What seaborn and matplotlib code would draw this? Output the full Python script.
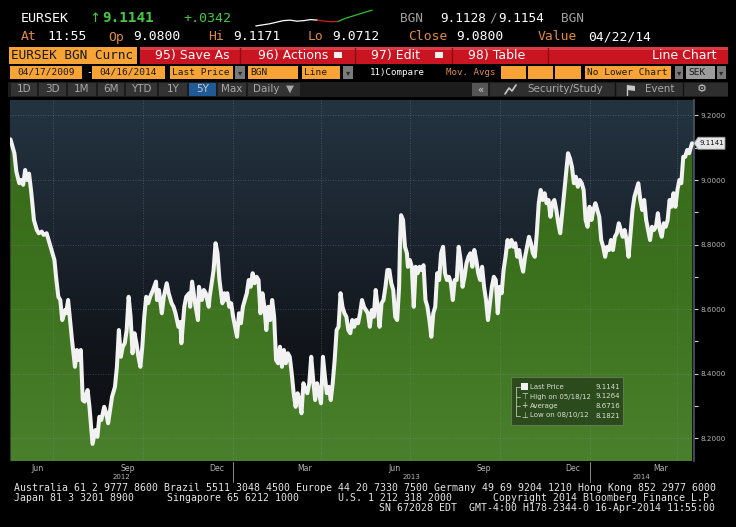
import numpy as np
import pandas as pd
import matplotlib
matplotlib.use("Agg")
import matplotlib.pyplot as plt
import matplotlib.dates as mdates
from matplotlib.colors import LinearSegmentedColormap
from matplotlib.patches import Rectangle, Polygon
import seaborn as sns

# ---- data ----
start_date = "2012-05-18"
# days since start_date
day = [0, 4, 6, 9, 11, 13, 15, 17, 19, 21, 22, 24, 27, 29, 32, 34, 37, 39, 42, 44,
       45, 47, 49, 51, 53, 56, 57, 59, 61, 63, 66, 68, 70, 72, 74, 76, 78, 79, 81, 82,
       84, 87, 89, 91, 93, 96, 98, 100, 102, 104, 107, 109, 111, 113, 115, 117, 119, 121, 123, 125,
       127, 129, 131, 133, 135, 137, 139, 141, 143, 146, 149, 150, 152, 155, 157, 160, 162, 165, 167, 169,
       172, 174, 175, 178, 180, 183, 184, 186, 189, 192, 193, 196, 198, 200, 203, 204, 206, 208, 210, 212,
       214, 217, 219, 221, 222, 224, 226, 228, 230, 232, 234, 236, 238, 240, 242, 244, 246, 248, 250, 252,
       254, 256, 258, 260, 262, 264, 266, 268, 270, 272, 274, 276, 278, 280, 282, 284, 286, 288, 290, 292,
       294, 296, 298, 300, 302, 304, 306, 308, 310, 312, 314, 316, 318, 320, 322, 324, 326, 328, 330, 332,
       334, 336, 338, 340, 342, 344, 346, 348, 350, 352, 354, 356, 358, 360, 362, 364, 366, 368, 370, 372,
       374, 376, 378, 380, 382, 384, 386, 388, 390, 392, 394, 396, 398, 399, 400, 402, 404, 406, 407, 409,
       411, 413, 415, 417, 419, 421, 423, 425, 427, 429, 431, 433, 435, 437, 439, 441, 443, 445, 447, 449,
       451, 453, 455, 457, 459, 461, 463, 465, 467, 469, 471, 473, 475, 477, 479, 481, 483, 485, 487, 489,
       491, 493, 495, 497, 499, 501, 503, 505, 507, 509, 511, 513, 515, 517, 519, 521, 523, 525, 527, 529,
       531, 533, 535, 537, 539, 541, 543, 545, 547, 549, 551, 553, 555, 557, 559, 561, 563, 565, 567, 569,
       571, 573, 575, 577, 579, 581, 583, 585, 587, 589, 591, 593, 595, 597, 599, 601, 603, 605, 607, 609,
       611, 613, 615, 617, 619, 621, 623, 625, 627, 629, 631, 633, 635, 637, 639, 641, 643, 645, 647, 649,
       651, 653, 655, 657, 659, 661, 663, 665, 667, 669, 671, 673, 675, 677, 679, 681, 683, 685, 687, 689,
       691, 693, 695, 698]
price = [9.126, 9.083, 9.026, 8.990, 9.000, 8.985, 9.031, 9.000, 9.020, 8.969, 8.940, 8.876, 8.845, 8.835, 8.840, 8.830, 8.835, 8.814, 8.783, 8.762,
         8.752, 8.690, 8.638, 8.628, 8.566, 8.597, 8.587, 8.628, 8.566, 8.504, 8.421, 8.473, 8.442, 8.473, 8.318, 8.313, 8.340, 8.349, 8.293, 8.256,
         8.182, 8.225, 8.204, 8.266, 8.256, 8.297, 8.277, 8.246, 8.287, 8.328, 8.359, 8.421, 8.535, 8.452, 8.483, 8.494, 8.535, 8.638, 8.576, 8.463,
         8.525, 8.494, 8.452, 8.421, 8.483, 8.576, 8.638, 8.618, 8.638, 8.659, 8.685, 8.628, 8.659, 8.587, 8.638, 8.680, 8.649, 8.618, 8.607, 8.587,
         8.545, 8.560, 8.494, 8.607, 8.638, 8.649, 8.607, 8.685, 8.618, 8.566, 8.669, 8.628, 8.659, 8.649, 8.607, 8.638, 8.680, 8.721, 8.804, 8.773,
         8.690, 8.618, 8.649, 8.628, 8.649, 8.607, 8.618, 8.576, 8.545, 8.514, 8.587, 8.556, 8.607, 8.628, 8.649, 8.690, 8.669, 8.711, 8.680, 8.700,
         8.690, 8.587, 8.649, 8.607, 8.535, 8.607, 8.566, 8.628, 8.576, 8.442, 8.432, 8.483, 8.421, 8.473, 8.432, 8.463, 8.452, 8.401, 8.339, 8.297,
         8.339, 8.318, 8.277, 8.370, 8.349, 8.339, 8.370, 8.452, 8.380, 8.318, 8.370, 8.339, 8.308, 8.452, 8.390, 8.339, 8.359, 8.318, 8.370, 8.442,
         8.535, 8.545, 8.649, 8.607, 8.587, 8.576, 8.535, 8.525, 8.566, 8.545, 8.566, 8.556, 8.587, 8.628, 8.607, 8.597, 8.587, 8.545, 8.597, 8.576,
         8.659, 8.607, 8.545, 8.618, 8.628, 8.669, 8.721, 8.721, 8.680, 8.659, 8.576, 8.566, 8.669, 8.814, 8.891, 8.876, 8.793, 8.773, 8.731, 8.752,
         8.731, 8.607, 8.731, 8.711, 8.731, 8.721, 8.736, 8.628, 8.607, 8.566, 8.514, 8.587, 8.607, 8.711, 8.690, 8.773, 8.793, 8.711, 8.690, 8.700,
         8.680, 8.628, 8.690, 8.690, 8.793, 8.752, 8.669, 8.700, 8.742, 8.762, 8.773, 8.731, 8.783, 8.752, 8.711, 8.690, 8.731, 8.669, 8.628, 8.566,
         8.618, 8.669, 8.700, 8.690, 8.587, 8.669, 8.649, 8.721, 8.762, 8.814, 8.793, 8.814, 8.793, 8.804, 8.762, 8.783, 8.742, 8.716, 8.762, 8.793,
         8.824, 8.804, 8.773, 8.762, 8.835, 8.928, 8.969, 8.938, 8.959, 8.928, 8.938, 8.886, 8.928, 8.938, 8.907, 8.866, 8.835, 8.897, 8.959, 9.021,
         9.083, 9.067, 9.041, 8.990, 9.010, 8.979, 9.000, 8.990, 8.969, 8.876, 8.855, 8.917, 8.876, 8.907, 8.928, 8.907, 8.886, 8.814, 8.793, 8.762,
         8.793, 8.783, 8.814, 8.783, 8.824, 8.835, 8.866, 8.845, 8.824, 8.845, 8.814, 8.762, 8.835, 8.907, 8.948, 8.969, 8.990, 8.938, 8.907, 8.938,
         8.876, 8.845, 8.814, 8.855, 8.845, 8.855, 8.897, 8.845, 8.824, 8.866, 8.855, 8.876, 8.938, 8.917, 8.959, 8.917, 8.969, 9.000, 8.990, 9.072,
         9.072, 9.093, 9.083, 9.114]

y_ticks = [8.2, 8.4, 8.6, 8.8, 9.0, 9.2]
month_labels = ["Jun", "Sep", "Dec", "Mar", "Jun", "Sep", "Dec", "Mar"]
month_label_dates = ["2012-06-15", "2012-09-15", "2012-12-15", "2013-03-15",
                     "2013-06-15", "2013-09-15", "2013-12-15", "2014-03-15"]
quarter_starts = ["2012-07-01", "2012-10-01", "2013-01-01", "2013-04-01",
                  "2013-07-01", "2013-10-01", "2014-01-01", "2014-04-01"]
year_labels = ["2012", "2013", "2014"]
year_starts = ["2013-01-01", "2014-01-01"]

legend_names = ["Last Price", "High on 05/18/12", "Average", "Low on 08/10/12"]
legend_values = ["9.1141", "9.1264", "8.6716", "8.1821"]
last_price = "9.1141"

# tiny sparkline in the header (heights in px)
spark_white = [0, 1, 2, 3.5, 5, 5.5, 4.5, 5, 6, 5.5]
spark_red = [5.5, 4.5, 4, 4.2]
spark_green = [4.2, 7, 9, 11, 13, 15]

tabs = ["1D", "3D", "1M", "6M", "YTD", "1Y", "5Y", "Max"]

footer = [
    "Australia 61 2 9777 8600 Brazil 5511 3048 4500 Europe 44 20 7330 7500 Germany 49 69 9204 1210 Hong Kong 852 2977 6000",
    "Copyright 2014 Bloomberg Finance L.P.",
    "SN 672028 EDT  GMT-4:00 H178-2344-0 16-Apr-2014 11:55:00",
]

# ---- style ----
sns.set_style("dark")
plt.rcParams["font.family"] = ["DejaVu Sans"]
MONO = "DejaVu Sans Mono"
SANS = "DejaVu Sans"
ORANGE_BOX = "#f8a336"
ORANGE_TXT = "#e08a40"
GREEN_TXT = "#45c845"
RED = "#c91422"

W, H = 736, 527
fig = plt.figure(figsize=(W / 100, H / 100), dpi=100, facecolor="black")

# background overlay in pixel coordinates
bg = fig.add_axes([0, 0, 1, 1], zorder=0)
bg.set_xlim(0, W)
bg.set_ylim(H, 0)
bg.axis("off")


def box(a, x0, y0, x1, y1, color, **kw):
    a.add_patch(Rectangle((x0, y0), x1 - x0, y1 - y0, facecolor=color,
                          edgecolor=kw.pop("edgecolor", "none"), **kw))


def txt(a, x, y, s, color="white", size=9.4, family=MONO, ha="left", weight="normal"):
    a.text(x, y, s, color=color, fontsize=size, family=family, ha=ha, va="center",
           fontweight=weight)


# row 1: quote line
txt(bg, 21, 18, "EURSEK", size=9.6)
txt(bg, 89, 18, "\u2191", color=GREEN_TXT, size=9.6, family=SANS)
txt(bg, 102, 18, "9.1141", color=GREEN_TXT, size=10.3, weight="bold")
txt(bg, 183, 18, "+.0342", color=GREEN_TXT, size=9.6)
txt(bg, 400, 18, "BGN", color="#a0a0a0", size=9.2)
txt(bg, 440, 18, "9.1128", size=9.2)
txt(bg, 489, 18, "/", color="#a0a0a0", size=9.2)
txt(bg, 498, 18, "9.1154", size=9.2)
txt(bg, 561, 18, "BGN", color="#a0a0a0", size=9.2)

sp = fig.add_axes([250 / W, 1 - 27 / H, 128 / W, 18 / H], zorder=1)
sp.axis("off")
n1, n2 = len(spark_white), len(spark_red)
sp.plot(range(n1), spark_white, color="white", lw=0.9)
sp.plot(range(n1 - 1, n1 - 1 + n2), spark_red, color="#d02020", lw=0.9)
sp.plot(range(n1 + n2 - 2, n1 + n2 - 2 + len(spark_green)), spark_green, color="#30c030", lw=0.9)
sp.set_ylim(-1, 16)

# row 2
for x, s, c in [(21, "At", ORANGE_TXT), (47, "11:55", "white"), (108, "Op", ORANGE_TXT),
                (133, "9.0800", "white"), (208, "Hi", ORANGE_TXT), (233, "9.1171", "white"),
                (308, "Lo", ORANGE_TXT), (332, "9.0712", "white"), (408, "Close", ORANGE_TXT),
                (456, "9.0800", "white"), (538, "Value", ORANGE_TXT), (588, "04/22/14", "white")]:
    txt(bg, x, 37, s, color=c)

# row 3: red menu bar
box(bg, 9, 47, 137, 64, ORANGE_BOX)
txt(bg, 11, 55.5, "EURSEK BGN Curnc", color="#1a1a1a", size=9.2)
box(bg, 140, 47, 728, 64, RED)
box(bg, 140, 47, 728, 50, "#dc3a44")
for sx in [240, 355, 452, 548]:
    bg.plot([sx, sx], [48, 63], color="#8a0c16", lw=1)
txt(bg, 155, 55.5, "95) Save As", family=SANS, size=9)
txt(bg, 258, 55.5, "96) Actions", family=SANS, size=9)
box(bg, 334, 52, 342, 58, "#f0f0f0")
txt(bg, 371, 55.5, "97) Edit", family=SANS, size=9)
box(bg, 435, 52, 443, 58, "#f0f0f0")
txt(bg, 468, 55.5, "98) Table", family=SANS, size=9)
txt(bg, 716, 55.5, "Line Chart", family=SANS, size=9, ha="right")

# row 4: option fields
for x0, x1, s, ha in [(10, 82, "04/17/2009", "c"), (92, 165, "04/16/2014", "c"),
                      (170, 233, "Last Price", "l"), (248, 298, "BGN", "l"),
                      (302, 340, "Line", "l"), (501, 526, "", "l"), (528, 553, "", "l"),
                      (555, 581, "", "l"), (585, 671, "No Lower Chart", "l")]:
    box(bg, x0, 66, x1, 78.5, ORANGE_BOX)
    if ha == "c":
        txt(bg, (x0 + x1) / 2, 72.3, s, color="#1a1a1a", size=6.8, ha="center")
    else:
        txt(bg, x0 + 2, 72.3, s, color="#1a1a1a", size=6.8)
txt(bg, 86, 72.3, "-", size=6.8)
box(bg, 686, 66, 715, 78.5, "#9c9c9c")
txt(bg, 688, 72.3, "SEK", color="#1a1a1a", size=6.8)
for x0, x1 in [(235, 245), (343, 353), (675, 683), (717, 726)]:
    box(bg, x0, 66, x1, 78.5, "#7a7a7a")
    txt(bg, (x0 + x1) / 2, 72.5, "\u25be", color="#2a2a2a", size=6, family=SANS, ha="center")
txt(bg, 370, 72.3, "11)Compare", size=6.6)
txt(bg, 446, 72.3, "Mov. Avgs", color=ORANGE_TXT, size=6.6)

# row 5: tab bar
box(bg, 8, 82, 728, 97, "#1c1c1c")
edges = [10, 38, 67, 97, 125, 158, 188, 217, 247]
for i, s in enumerate(tabs):
    col = "#1f5a96" if s == "5Y" else "#333333"
    box(bg, edges[i] + 1, 83, edges[i + 1] - 1, 96, col)
    txt(bg, (edges[i] + edges[i + 1]) / 2, 89.5, s, color="#c8c8c8" if s == "5Y" else "#a8a8a8",
        size=7.5, family=SANS, ha="center")
box(bg, 248, 83, 300, 96, "#333333")
txt(bg, 253, 89.5, "Daily  \u25bc", color="#a8a8a8", size=7.5, family=SANS)
box(bg, 472, 83, 488, 96, "#555555")
txt(bg, 480, 89.5, "\u00ab", color="#d0d0d0", size=7.5, family=SANS, ha="center")
box(bg, 490, 83, 728, 96, "#2e2e2e")
for sx in [615, 683]:
    bg.plot([sx, sx], [83, 96], color="#111111", lw=1)
bg.plot([505, 509, 512, 516], [94, 88, 91, 85], color="#c8c8c8", lw=1.2)
txt(bg, 527, 89.5, "Security/Study", color="#a8a8a8", size=7.4, family=SANS)
bg.add_patch(Polygon([(627, 85), (635, 86), (635, 91), (627, 90)], closed=True,
                     facecolor="#c8c8c8", edgecolor="none"))
bg.plot([627, 627], [85, 95], color="#c8c8c8", lw=1)
txt(bg, 645, 89.5, "Event", color="#a8a8a8", size=7.4, family=SANS)
txt(bg, 702, 89.5, "\u2699", color="#c8c8c8", size=8, family=SANS, ha="center")

# footer
txt(bg, 14, 488, footer[0], color="#e6e6e6", size=7.1)
txt(bg, 14, 498, "Japan 81 3 3201 8900", color="#e6e6e6", size=7.1)
txt(bg, 167, 498, "Singapore 65 6212 1000", color="#e6e6e6", size=7.1)
txt(bg, 338, 498, "U.S. 1 212 318 2000", color="#e6e6e6", size=7.1)
txt(bg, 715, 498, footer[1], color="#e6e6e6", size=7.1, ha="right")
txt(bg, 715, 508, footer[2], color="#e6e6e6", size=7.1, ha="right")

# ---- main chart ----
dates = pd.Timestamp(start_date) + pd.to_timedelta(day, unit="D")
df = pd.DataFrame({"date": dates, "price": price})

ax = fig.add_axes([10 / W, 1 - 461 / H, 684 / W, 361 / H], zorder=1)
x0 = mdates.date2num(pd.Timestamp("2012-05-17 12:00"))
x1 = mdates.date2num(pd.Timestamp("2014-04-18"))
ylo, yhi = 8.129, 9.248

grad = np.linspace(0, 1, 256).reshape(-1, 1)
sky = LinearSegmentedColormap.from_list("sky", ["#233440", "#1c2631", "#12161c", "#0b0c0f"])
ax.imshow(grad, cmap=sky, extent=[x0, x1, ylo, yhi], aspect="auto", origin="upper", zorder=0)

poly = ax.fill_between(mdates.date2num(df["date"]), df["price"], ylo,
                       facecolor="none", edgecolor="none")
grass = LinearSegmentedColormap.from_list("grass", ["#376a19", "#3c711e", "#4a7f2b"])
gim = ax.imshow(grad, cmap=grass, extent=[x0, x1, ylo, yhi], aspect="auto", origin="upper", zorder=1)
gim.set_clip_path(poly.get_paths()[0], transform=ax.transData)

for v in y_ticks:
    ax.axhline(v, color="#8b99a3", lw=0.6, ls=(0, (1, 2)), alpha=0.45, zorder=2)
for q in quarter_starts:
    ax.axvline(mdates.date2num(pd.Timestamp(q)), color="#8b99a3", lw=0.6, ls=(0, (1, 2)),
               alpha=0.45, zorder=2)

sns.lineplot(x=mdates.date2num(df["date"]), y=df["price"], color="#f2f2f2", lw=2.9,
             ax=ax, zorder=3, sort=False)

ax.set_xlim(x0, x1)
ax.set_ylim(ylo, yhi)
ax.set_xlabel("")
ax.set_ylabel("")
ax.set_facecolor("black")
for side in ["top", "left", "bottom"]:
    ax.spines[side].set_visible(False)
ax.spines["right"].set_color("#4a5664")
ax.spines["right"].set_linewidth(1.2)

# right-hand price axis
ax.yaxis.tick_right()
ax.set_yticks(y_ticks)
ax.set_yticklabels([f"{v:.4f}" for v in y_ticks], fontsize=5.2, color="#b4b4b4")
ax.set_yticks([v + 0.1 for v in y_ticks[:-1]], minor=True)
ax.tick_params(axis="y", which="both", direction="out", length=3, width=0.8,
               colors="#d0d0d0", pad=1.5)
ax.tick_params(axis="y", which="major", labelcolor="#b4b4b4")

# time axis
ax.set_xticks([mdates.date2num(pd.Timestamp(d)) for d in month_label_dates])
ax.set_xticklabels(month_labels, fontsize=5.6, color="#b4b4b4")
ax.xaxis.set_minor_locator(mdates.MonthLocator())
ax.tick_params(axis="x", which="major", length=0, pad=2)
ax.tick_params(axis="x", which="minor", length=3, width=0.7, colors="#8a8a8a", direction="out")

xtr = ax.get_xaxis_transform()
bounds = [x0] + [mdates.date2num(pd.Timestamp(d)) for d in year_starts] + [x1]
for i, yl in enumerate(year_labels):
    ax.text((bounds[i] + bounds[i + 1]) / 2, -0.044, yl, transform=xtr, ha="center",
            va="center", fontsize=5, color="#b4b4b4")
for d in year_starts:
    xd = mdates.date2num(pd.Timestamp(d))
    ax.plot([xd, xd], [-0.003, -0.058], transform=xtr, color="#8a8a8a", lw=0.7, clip_on=False)

# ---- top overlay: price tag and legend ----
top = fig.add_axes([0, 0, 1, 1], zorder=3)
top.set_xlim(0, W)
top.set_ylim(H, 0)
top.axis("off")
top.patch.set_alpha(0)

fig.canvas.draw()
tag_y = H - ax.transData.transform((x1, price[-1]))[1]
top.add_patch(Polygon([(694, tag_y), (698, tag_y - 6), (725, tag_y - 6), (725, tag_y + 6),
                       (698, tag_y + 6)], closed=True, facecolor="#e6e6e6", edgecolor="#9a9a9a",
                      lw=0.6))
txt(top, 711.5, tag_y, last_price, color="#111111", size=5, family=SANS, ha="center")

box(top, 511, 377, 623, 425, "#2c4b1d", edgecolor="#607a50", lw=0.8)
rows_y = [387, 396.5, 406, 415.5]
top.plot([516, 516], [387, 415.5], color="#b8c4b0", lw=0.6)
for ry, name, val in zip(rows_y, legend_names, legend_values):
    top.plot([516, 520], [ry, ry], color="#b8c4b0", lw=0.6)
    txt(top, 530, ry, name, color="#d8dfd2", size=5, family=SANS)
    txt(top, 620, ry, val, color="#d8dfd2", size=5, family=SANS, ha="right")
box(top, 521, 383, 528, 390, "#f2f2f2")
txt(top, 524.5, rows_y[1], "\u22a4", color="#d8dfd2", size=5.6, family=SANS, ha="center")
txt(top, 524.5, rows_y[2], "+", color="#d8dfd2", size=5.6, family=SANS, ha="center")
txt(top, 524.5, rows_y[3], "\u22a5", color="#d8dfd2", size=5.6, family=SANS, ha="center")

fig.savefig("out.png", dpi=100, facecolor="black")
